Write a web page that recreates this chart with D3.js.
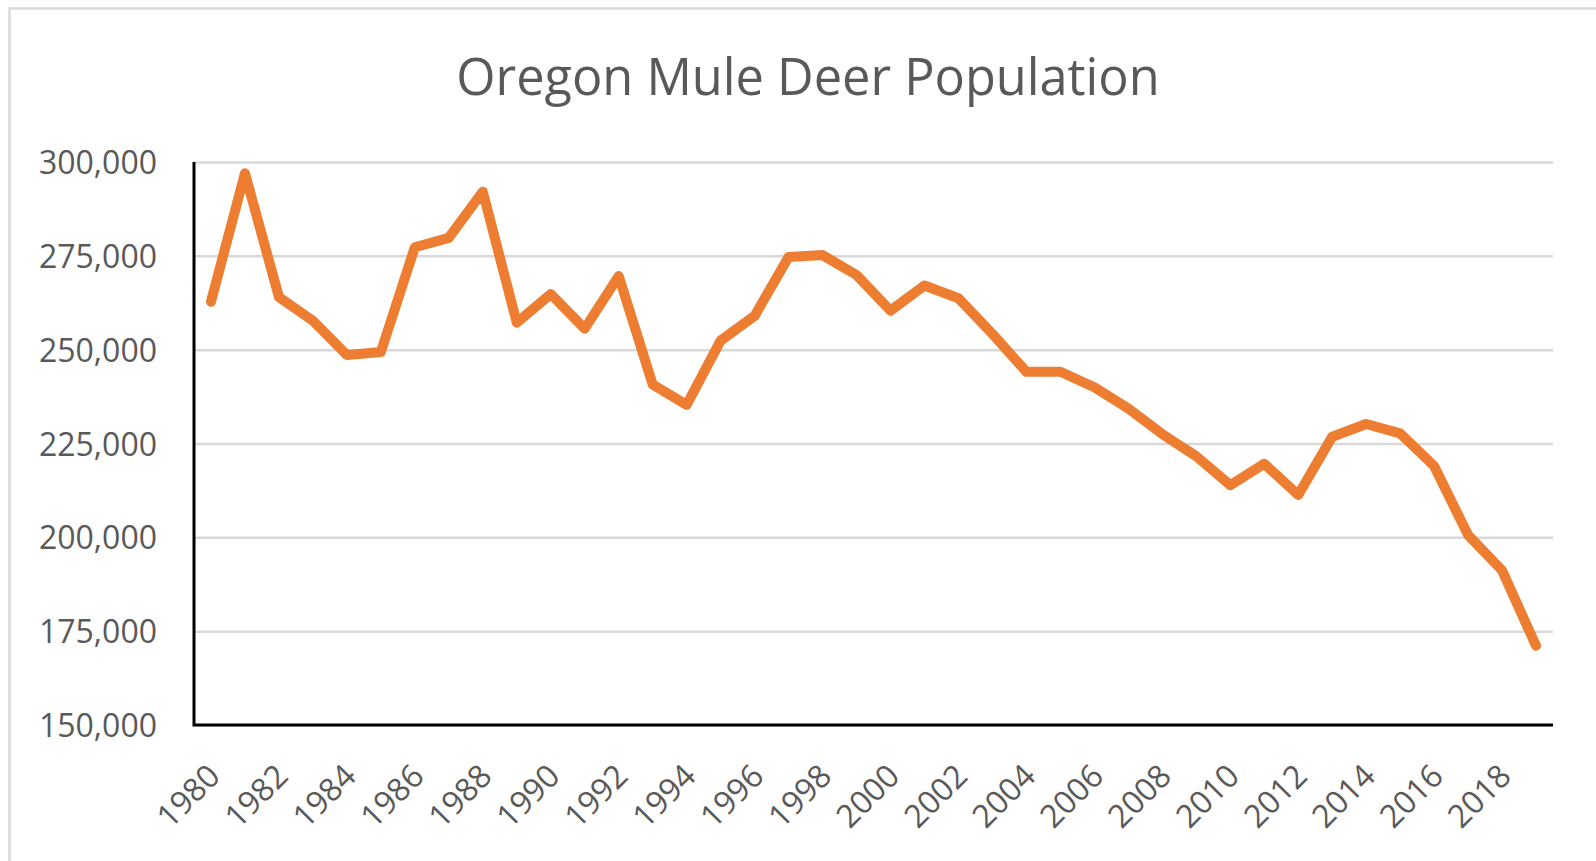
<!DOCTYPE html>
<html>
<head>
<meta charset="utf-8">
<title>Oregon Mule Deer Population</title>
<script src="https://cdn.jsdelivr.net/npm/d3@7/dist/d3.min.js"></script>
<style>
    html, body { margin: 0; padding: 0; background: #fff; overflow: hidden; }
    svg { display: block; }
</style>
</head>
<body>
<svg id="chart" width="1596" height="861"></svg>
<script>
/*jslint browser: true */

var chartTitle = "Oregon Mule Deer Population";

var years = [1980, 1981, 1982, 1983, 1984, 1985, 1986, 1987, 1988, 1989,
    1990, 1991, 1992, 1993, 1994, 1995, 1996, 1997, 1998, 1999,
    2000, 2001, 2002, 2003, 2004, 2005, 2006, 2007, 2008, 2009,
    2010, 2011, 2012, 2013, 2014, 2015, 2016, 2017, 2018, 2019];

var population = [262800, 297000, 264000, 257700, 248600, 249400, 277300, 279800, 292100, 257200,
    264800, 255600, 269600, 240700, 235300, 252400, 259000, 274700, 275200, 269900,
    260400, 267100, 263700, 254200, 244100, 244100, 240000, 234300, 227500, 221600,
    213900, 219600, 211300, 226800, 230200, 227700, 219000, 200600, 191200, 171100];

var yTicks = [150000, 175000, 200000, 225000, 250000, 275000, 300000];

// only every other year gets a label, like the original
var xTickLabels = [1980, 1982, 1984, 1986, 1988, 1990, 1992, 1994, 1996, 1998,
    2000, 2002, 2004, 2006, 2008, 2010, 2012, 2014, 2016, 2018];

(function (d3) {
    "use strict";

    var svg = d3.select("#chart"),
        plot = {left: 194, right: 1553, top: 162, bottom: 725},
        gray = "#595959",
        font = "'Open Sans', 'Liberation Sans', sans-serif",
        x, y, line, g;

    // chart area border (runs off the right and bottom of the picture)
    svg.append("rect")
        .attr("x", 9.5)
        .attr("y", 8.5)
        .attr("width", 1620)
        .attr("height", 880)
        .attr("fill", "#fff")
        .attr("stroke", "#d9d9d9")
        .attr("stroke-width", 2.5);

    svg.append("text")
        .attr("x", 808)
        .attr("y", 95)
        .attr("text-anchor", "middle")
        .attr("fill", gray)
        .style("font-family", font)
        .style("font-size", "50.5px")
        .text(chartTitle);

    x = d3.scaleBand()
        .domain(years)
        .range([plot.left, plot.right]);

    y = d3.scaleLinear()
        .domain([150000, 300000])
        .range([plot.bottom, plot.top]);

    // gridlines
    g = svg.append("g")
        .attr("transform", "translate(" + plot.left + ",0)")
        .call(d3.axisLeft(y)
            .tickValues(yTicks)
            .tickSize(-(plot.right - plot.left))
            .tickFormat(""));
    g.select(".domain").remove();
    g.selectAll(".tick line")
        .attr("stroke", "#d9d9d9")
        .attr("stroke-width", 2.5);

    // y tick labels
    g = svg.append("g")
        .attr("transform", "translate(" + (plot.left - 37) + ",0)")
        .call(d3.axisLeft(y)
            .tickValues(yTicks)
            .tickSize(0)
            .tickPadding(0)
            .tickFormat(d3.format(",")));
    g.select(".domain").remove();
    g.selectAll(".tick text")
        .attr("fill", gray)
        .attr("dy", "0.36em")
        .style("font-family", font)
        .style("font-size", "32px");

    // x tick labels, rotated
    g = svg.append("g")
        .attr("transform", "translate(0," + plot.bottom + ")")
        .call(d3.axisBottom(x)
            .tickValues(xTickLabels)
            .tickSize(0)
            .tickFormat(d3.format("d")));
    g.select(".domain").remove();
    g.selectAll(".tick text")
        .attr("fill", gray)
        .attr("text-anchor", "end")
        .attr("x", 0)
        .attr("y", 0)
        .attr("dy", 0)
        .attr("transform", "translate(11,53) rotate(-45)")
        .style("font-family", font)
        .style("font-size", "32px");

    // axis lines
    svg.append("path")
        .attr("d", "M" + plot.left + "," + plot.top + "V" + plot.bottom + "H" + plot.right)
        .attr("fill", "none")
        .attr("stroke", "#000")
        .attr("stroke-width", 3);

    line = d3.line()
        .x(function (d, i) { return x(years[i]) + x.bandwidth() / 2; })
        .y(function (d) { return y(d); });

    svg.append("path")
        .datum(population)
        .attr("d", line)
        .attr("fill", "none")
        .attr("stroke", "#ed7d31")
        .attr("stroke-width", 10)
        .attr("stroke-linejoin", "round")
        .attr("stroke-linecap", "round");

}(window.d3));
</script>
</body>
</html>
